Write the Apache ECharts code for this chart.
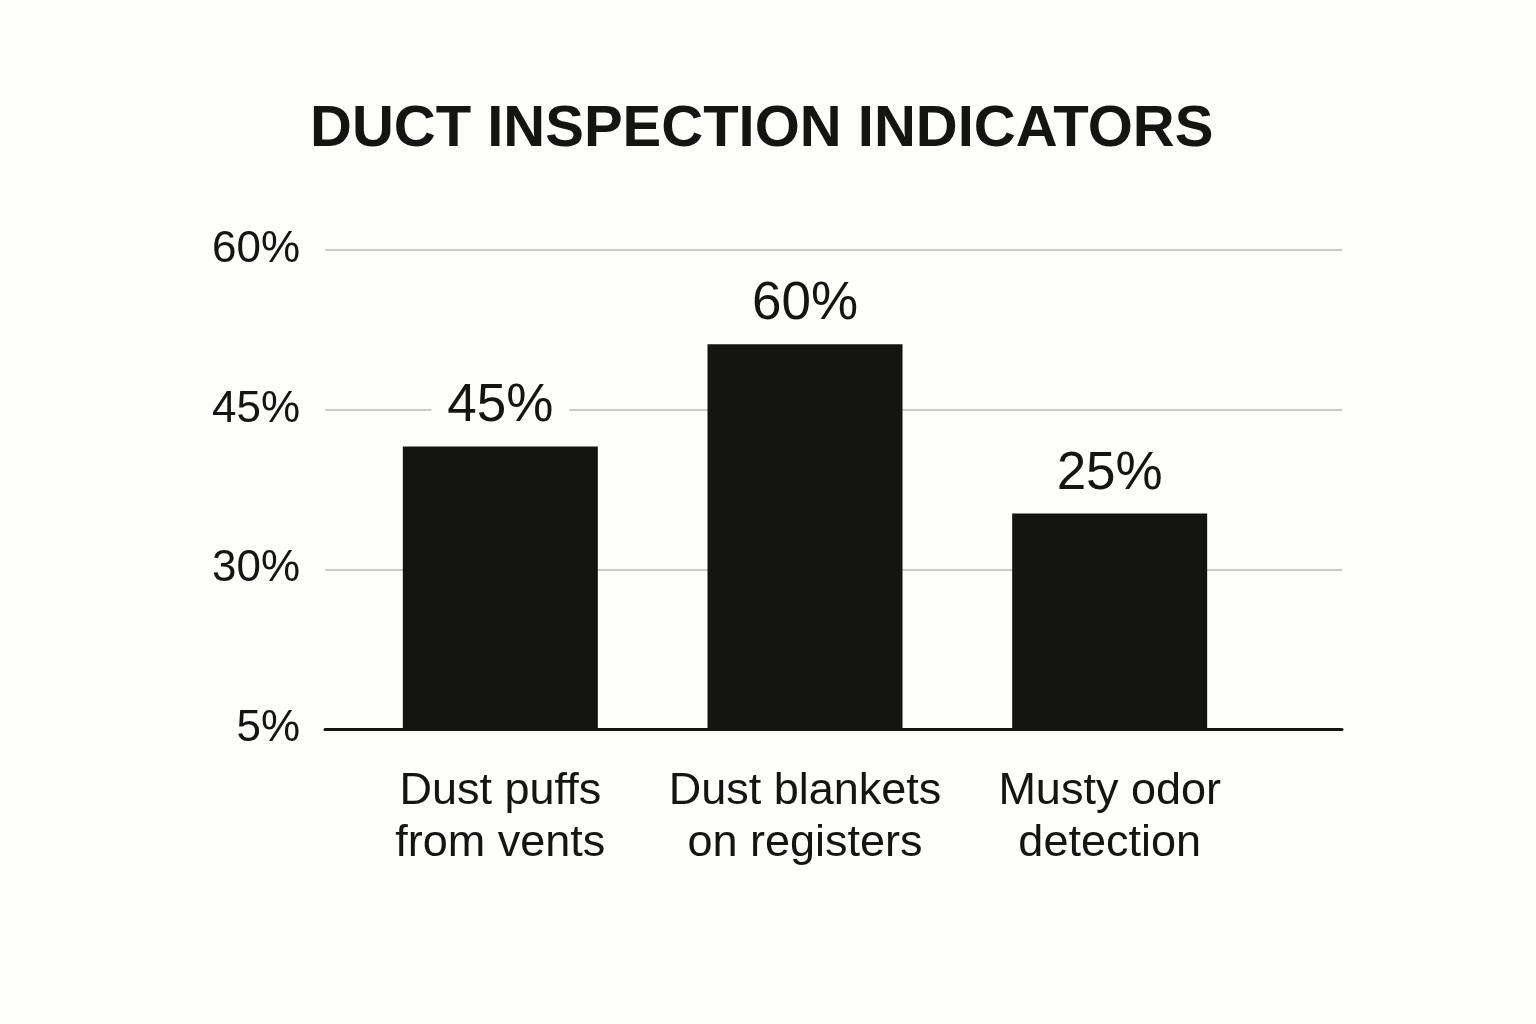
<!DOCTYPE html>
<html>
<head>
<meta charset="utf-8">
<title>Duct inspection indicators</title>
<script src="https://cdn.jsdelivr.net/npm/echarts@6/dist/echarts.min.js"></script>
<style>
  html, body { margin: 0; padding: 0; background: #fdfdfc; }
  #main { width: 1536px; height: 1024px; }
</style>
</head>
<body>
<div id="main"></div>
<script>
// categories along the bottom
const categories = ['Dust puffs\nfrom vents', 'Dust blankets\non registers', 'Musty odor\ndetection'];
// the y axis is evenly spaced but labelled unevenly, so ticks are indexes 0..3
const tickLabels = ['5%', '30%', '45%', '60%'];
// bar heights, in tick steps above the baseline
const barHeights = [1.77, 2.41, 1.35];
// the text printed above each bar
const barLabels = ['45%', '60%', '25%'];

const font = 'Liberation Sans, Arial, sans-serif';
const ink = '#141412';

let myChart = echarts.init(document.getElementById('main'));

myChart.setOption({
    backgroundColor: '#fdfdfc',
    animation: false,
    title: {
        text: 'DUCT INSPECTION INDICATORS',
        left: 305,
        top: 96,
        textStyle: { fontFamily: font, fontSize: 58, fontWeight: 'bold', color: ink }
    },
    grid: [
        // gridlines, tick labels and baseline
        { left: 325, right: 194, top: 250, bottom: 295 },
        // bars and category labels
        { left: 348, right: 274, top: 250, bottom: 295 }
    ],
    xAxis: [
        {
            gridIndex: 0,
            type: 'category',
            data: categories,
            axisLine: { lineStyle: { color: ink, width: 3 } },
            axisTick: { show: false },
            axisLabel: { show: false }
        },
        {
            gridIndex: 1,
            type: 'category',
            data: categories,
            axisLine: { show: false },
            axisTick: { show: false },
            axisLabel: {
                interval: 0,
                margin: 37,
                fontFamily: font,
                fontSize: 45,
                lineHeight: 52,
                color: ink
            }
        }
    ],
    yAxis: [
        {
            gridIndex: 0,
            type: 'value',
            min: 0,
            max: 3,
            interval: 1,
            axisLine: { show: false },
            axisTick: { show: false },
            axisLabel: {
                margin: 25,
                fontFamily: font,
                fontSize: 44,
                color: ink,
                padding: [9, 0, 0, 0],
                formatter: v => tickLabels[v]
            },
            splitLine: { lineStyle: { color: '#c9c9c9', width: 2 } }
        },
        {
            gridIndex: 1,
            type: 'value',
            min: 0,
            max: 3,
            interval: 1,
            show: false,
            splitLine: { show: false }
        }
    ],
    series: [
        {
            type: 'bar',
            xAxisIndex: 1,
            yAxisIndex: 1,
            data: barHeights,
            barWidth: 195,
            itemStyle: { color: ink },
            label: {
                show: true,
                position: 'top',
                distance: 11,
                formatter: p => barLabels[p.dataIndex],
                fontFamily: font,
                fontSize: 53,
                color: ink,
                backgroundColor: '#fdfdfc',
                padding: [2, 16]
            }
        }
    ]
});
</script>
</body>
</html>
